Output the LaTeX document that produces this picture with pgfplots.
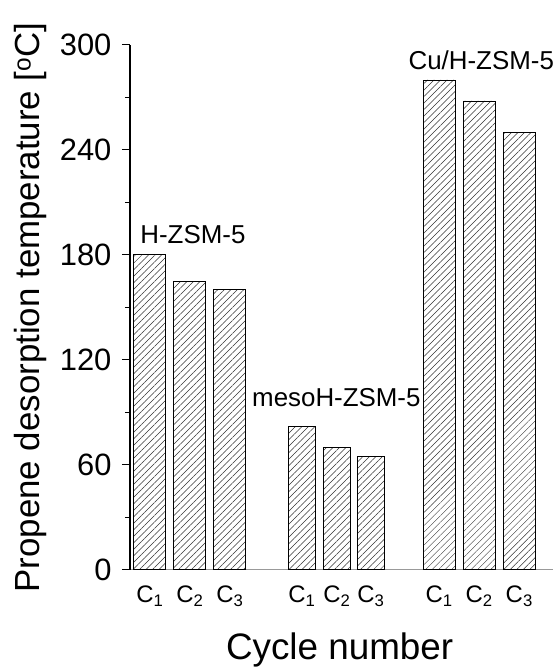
\documentclass[border=0pt]{standalone}
\usepackage{pgfplots}
\pgfplotsset{compat=1.18}
\usepackage{fontspec}
\setmainfont{Liberation Sans}
\usetikzlibrary{patterns.meta}
\begin{document}
\begin{tikzpicture}
\begin{axis}[
    scale only axis,
    width=423bp, height=525bp,
    xmin=130, xmax=553,
    ymin=0, ymax=300,
    axis x line*=bottom,
    axis y line*=left,
    x axis line style={gray!80, line width=1pt},
    y axis line style={black, line width=1.2pt},
    ytick={0,60,120,180,240,300},
    minor y tick num=1,
    tick align=outside,
    major tick length=8bp,
    minor tick length=5bp,
    y tick style={black, line width=1pt},
    xtick={150,190,230,302,337,371,439.3,479.3,519.5},
    xticklabels={C\textsubscript{1},C\textsubscript{2},C\textsubscript{3},C\textsubscript{1},C\textsubscript{2},C\textsubscript{3},C\textsubscript{1},C\textsubscript{2},C\textsubscript{3}},
    x tick style={draw=none},
    xticklabel style={font=\fontsize{24}{28}\selectfont, yshift=-5bp},
    yticklabel style={font=\fontsize{31}{36}\selectfont, xshift=-7bp},
    /pgf/number format/assume math mode=true,
    xlabel={Cycle number},
    ylabel={Propene desorption temperature [\textsuperscript{o}C]},
    xlabel style={font=\fontsize{37}{42}\selectfont, at={(axis description cs:0.496,-0.152)}, anchor=center},
    ylabel style={font=\fontsize{35}{40}\selectfont, at={(axis description cs:-0.235,0.5)}, anchor=center},
    clip=false,
    every axis plot/.append style={ybar, bar shift=0pt, draw=black, line width=0.9bp,
        pattern={Lines[angle=45, distance=4.6bp, line width=0.5bp]}, pattern color=black!80},
]
\addplot[bar width=32] coordinates {(150,180) (190,165) (230,160)};
\addplot[bar width=27.5] coordinates {(302,82) (337,70) (371,65)};
\addplot[bar width=32] coordinates {(439.3,280) (479.3,268) (519.5,250)};
\node[font=\fontsize{26}{30}\selectfont] at (axis cs:193,191.4) {H-ZSM-5};
\node[font=\fontsize{26}{30}\selectfont] at (axis cs:336.5,98.3) {mesoH-ZSM-5};
\node[font=\fontsize{26}{30}\selectfont] at (axis cs:481.5,291.4) {Cu/H-ZSM-5};
\end{axis}
\path (-130bp,-100bp) rectangle (428bp,570bp);
\end{tikzpicture}
\end{document}
